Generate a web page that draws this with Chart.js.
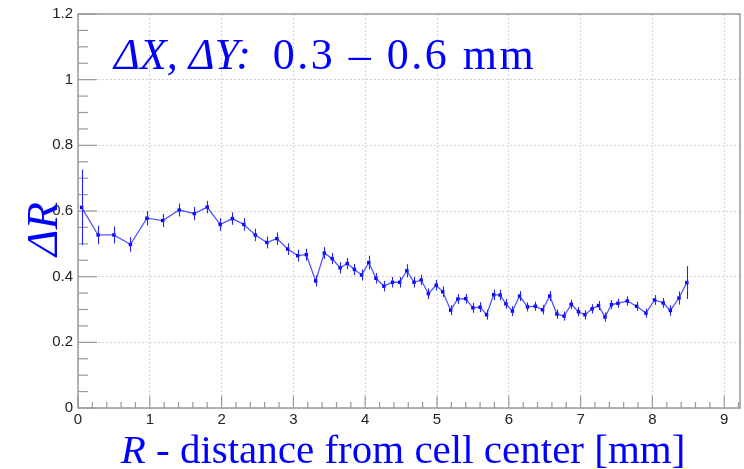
<!DOCTYPE html>
<html>
<head>
<meta charset="utf-8">
<script src="https://cdn.jsdelivr.net/npm/chart.js@4/dist/chart.umd.min.js"></script>
<style>
  html, body { margin: 0; padding: 0; background: #fff; }
  #wrap { position: relative; width: 744px; height: 469px; }
</style>
</head>
<body>
<div id="wrap"><canvas id="chartDR" width="744" height="469"></canvas></div>
<script>
// bin centres R [mm]
const rVals = [0.05, 0.28, 0.50, 0.73, 0.96, 1.18, 1.41, 1.62, 1.80, 1.98,
  2.15, 2.31, 2.47, 2.63, 2.77, 2.92, 3.06, 3.18, 3.31, 3.43,
  3.54, 3.65, 3.75, 3.85, 3.95, 4.05, 4.15, 4.26, 4.38, 4.48,
  4.58, 4.68, 4.78, 4.88, 4.99, 5.08, 5.19, 5.29, 5.40, 5.50,
  5.60, 5.69, 5.79, 5.88, 5.96, 6.05, 6.15, 6.26, 6.37, 6.47,
  6.57, 6.67, 6.77, 6.87, 6.97, 7.06, 7.16, 7.25, 7.34, 7.43,
  7.52, 7.65, 7.78, 7.91, 8.03, 8.15, 8.25, 8.37, 8.48];
// delta R values
const dRVals = [0.611, 0.527, 0.527, 0.498, 0.578, 0.571, 0.603, 0.592, 0.612, 0.559,
  0.577, 0.559, 0.527, 0.504, 0.516, 0.484, 0.464, 0.467, 0.387, 0.472,
  0.455, 0.427, 0.440, 0.422, 0.405, 0.443, 0.395, 0.371, 0.383, 0.383,
  0.418, 0.383, 0.390, 0.348, 0.374, 0.354, 0.298, 0.332, 0.333, 0.305,
  0.307, 0.284, 0.345, 0.344, 0.317, 0.295, 0.341, 0.308, 0.310, 0.299,
  0.341, 0.286, 0.280, 0.316, 0.293, 0.284, 0.302, 0.312, 0.277, 0.315,
  0.319, 0.326, 0.310, 0.289, 0.329, 0.320, 0.297, 0.335, 0.382];
// errors on delta R
const dRErr = [0.115, 0.028, 0.026, 0.022, 0.022, 0.020, 0.020, 0.020, 0.019, 0.019,
  0.019, 0.019, 0.019, 0.018, 0.019, 0.018, 0.018, 0.018, 0.017, 0.018,
  0.017, 0.017, 0.017, 0.017, 0.017, 0.021, 0.016, 0.016, 0.016, 0.016,
  0.020, 0.016, 0.016, 0.016, 0.016, 0.016, 0.015, 0.015, 0.015, 0.015,
  0.015, 0.015, 0.016, 0.016, 0.015, 0.015, 0.015, 0.014, 0.014, 0.014,
  0.015, 0.014, 0.014, 0.014, 0.014, 0.014, 0.014, 0.014, 0.014, 0.014,
  0.014, 0.014, 0.014, 0.014, 0.015, 0.015, 0.016, 0.020, 0.050];

// tick labels
const xTicks = [0, 1, 2, 3, 4, 5, 6, 7, 8, 9];
const yTicks = [0, 0.2, 0.4, 0.6, 0.8, 1, 1.2];

const xMin = 0, xMax = 9.22, yMin = 0, yMax = 1.2;
const blue = '#0000ff';

let points = [];
for (let i = 0; i < rVals.length; i++) {
    points.push({ x: rVals[i], y: dRVals[i] });
}

// ROOT-like frame + inward ticks, error bars, and the blue texts
const rootStyle = {
    id: 'rootStyle',
    beforeDatasetsDraw(chart) {
        const ctx = chart.ctx;
        const a = chart.chartArea;
        const xs = chart.scales.x, ys = chart.scales.y;
        ctx.save();
        // frame
        ctx.strokeStyle = '#9a9a9a';
        ctx.lineWidth = 1.5;
        ctx.strokeRect(a.left, a.top, a.right - a.left, a.bottom - a.top);
        // x ticks (upwards)
        ctx.lineWidth = 1.2;
        for (let k = 0; k * 0.2 <= xMax + 1e-9; k++) {
            const major = k % 5 === 0;
            const px = xs.getPixelForValue(k * 0.2);
            ctx.beginPath();
            ctx.moveTo(px, a.bottom);
            ctx.lineTo(px, a.bottom - (major ? 12 : 6));
            ctx.stroke();
        }
        // y ticks (rightwards)
        for (let k = 0; k <= 24; k++) {
            const major = k % 4 === 0;
            const py = ys.getPixelForValue(k * 0.05);
            ctx.beginPath();
            ctx.moveTo(a.left, py);
            ctx.lineTo(a.left + (major ? 19 : 10), py);
            ctx.stroke();
        }
        ctx.restore();
    },
    afterDatasetsDraw(chart) {
        const ctx = chart.ctx;
        const xs = chart.scales.x, ys = chart.scales.y;
        ctx.save();
        ctx.strokeStyle = '#2222ff';
        ctx.lineWidth = 1.1;
        for (let i = 0; i < rVals.length; i++) {
            const px = Math.round(xs.getPixelForValue(rVals[i])) + 0.5;
            ctx.beginPath();
            ctx.moveTo(px, ys.getPixelForValue(dRVals[i] + dRErr[i]));
            ctx.lineTo(px, ys.getPixelForValue(dRVals[i] - dRErr[i]));
            ctx.stroke();
        }
        ctx.restore();
    },
    afterDraw(chart) {
        const ctx = chart.ctx;
        ctx.save();
        ctx.fillStyle = blue;
        ctx.textBaseline = 'alphabetic';
        // label in the plot
        ctx.textAlign = 'left';
        ctx.font = 'italic 44px "Liberation Serif"';
        const part1 = '\u0394X, \u0394Y:  ';
        ctx.fillText(part1, 114, 69);
        const w1 = ctx.measureText(part1).width;
        ctx.font = '44px "Liberation Serif"';
        ctx.letterSpacing = '2.5px';
        ctx.fillText('0.3 \u2013 0.6 mm', 114 + w1, 69);
        ctx.letterSpacing = '0px';

        // x title
        ctx.font = 'italic 41px "Liberation Serif"';
        const r = 'R';
        const wr = ctx.measureText(r).width;
        ctx.font = '41px "Liberation Serif"';
        const rest = ' - distance from cell center [mm]';
        const wrest = ctx.measureText(rest).width;
        const x0 = 403 - (wr + wrest) / 2;
        ctx.font = 'italic 41px "Liberation Serif"';
        ctx.fillText(r, x0, 463);
        ctx.font = '41px "Liberation Serif"';
        ctx.fillText(rest, x0 + wr, 463);

        // y title
        ctx.translate(57, 229);
        ctx.rotate(-Math.PI / 2);
        ctx.textAlign = 'center';
        ctx.font = 'italic 45px "Liberation Serif"';
        ctx.fillText('\u0394R', 0, 0);
        ctx.restore();
    }
};

const chartDR = new Chart(document.getElementById('chartDR'), {
    type: 'line',
    data: {
        datasets: [
            {
                label: 'dR',
                data: points,
                borderColor: 'rgba(40,40,255,0.8)',
                borderWidth: 1.3,
                backgroundColor: blue,
                pointBackgroundColor: blue,
                pointBorderColor: blue,
                pointStyle: 'rect',
                pointRadius: 2.4,
                pointBorderWidth: 0,
                fill: false,
                tension: 0,
            },
        ],
    },
    plugins: [rootStyle],
    options: {
        responsive: false,
        animation: false,
        devicePixelRatio: 1,
        layout: { padding: { top: 14, right: 2, left: 0, bottom: 0 } },
        plugins: {
            legend: { display: false },
            tooltip: { enabled: false },
        },
        scales: {
            x: {
                type: 'linear',
                min: xMin,
                max: xMax,
                afterBuildTicks: function (scale) { scale.ticks = xTicks.map(v => ({ value: v })); },
                afterFit: function (scale) { scale.height = 61; },
                ticks: {
                    autoSkip: false,
                    padding: 3,
                    maxRotation: 0,
                    color: '#222',
                    font: { family: 'Liberation Sans', size: 15 },
                    callback: function (value) { return String(value); },
                },
                grid: { color: '#d4d4d4', lineWidth: 1, drawTicks: false },
                border: { display: false, dash: [2, 2] },
            },
            y: {
                type: 'linear',
                min: yMin,
                max: yMax,
                afterBuildTicks: function (scale) { scale.ticks = yTicks.map(v => ({ value: v })); },
                afterFit: function (scale) { scale.width = 78; },
                ticks: {
                    autoSkip: false,
                    padding: 5,
                    color: '#222',
                    font: { family: 'Liberation Sans', size: 15 },
                    callback: function (value) { return String(value); },
                },
                grid: { color: '#d4d4d4', lineWidth: 1, drawTicks: false },
                border: { display: false, dash: [2, 2] },
            },
        },
    },
});
</script>
</body>
</html>
